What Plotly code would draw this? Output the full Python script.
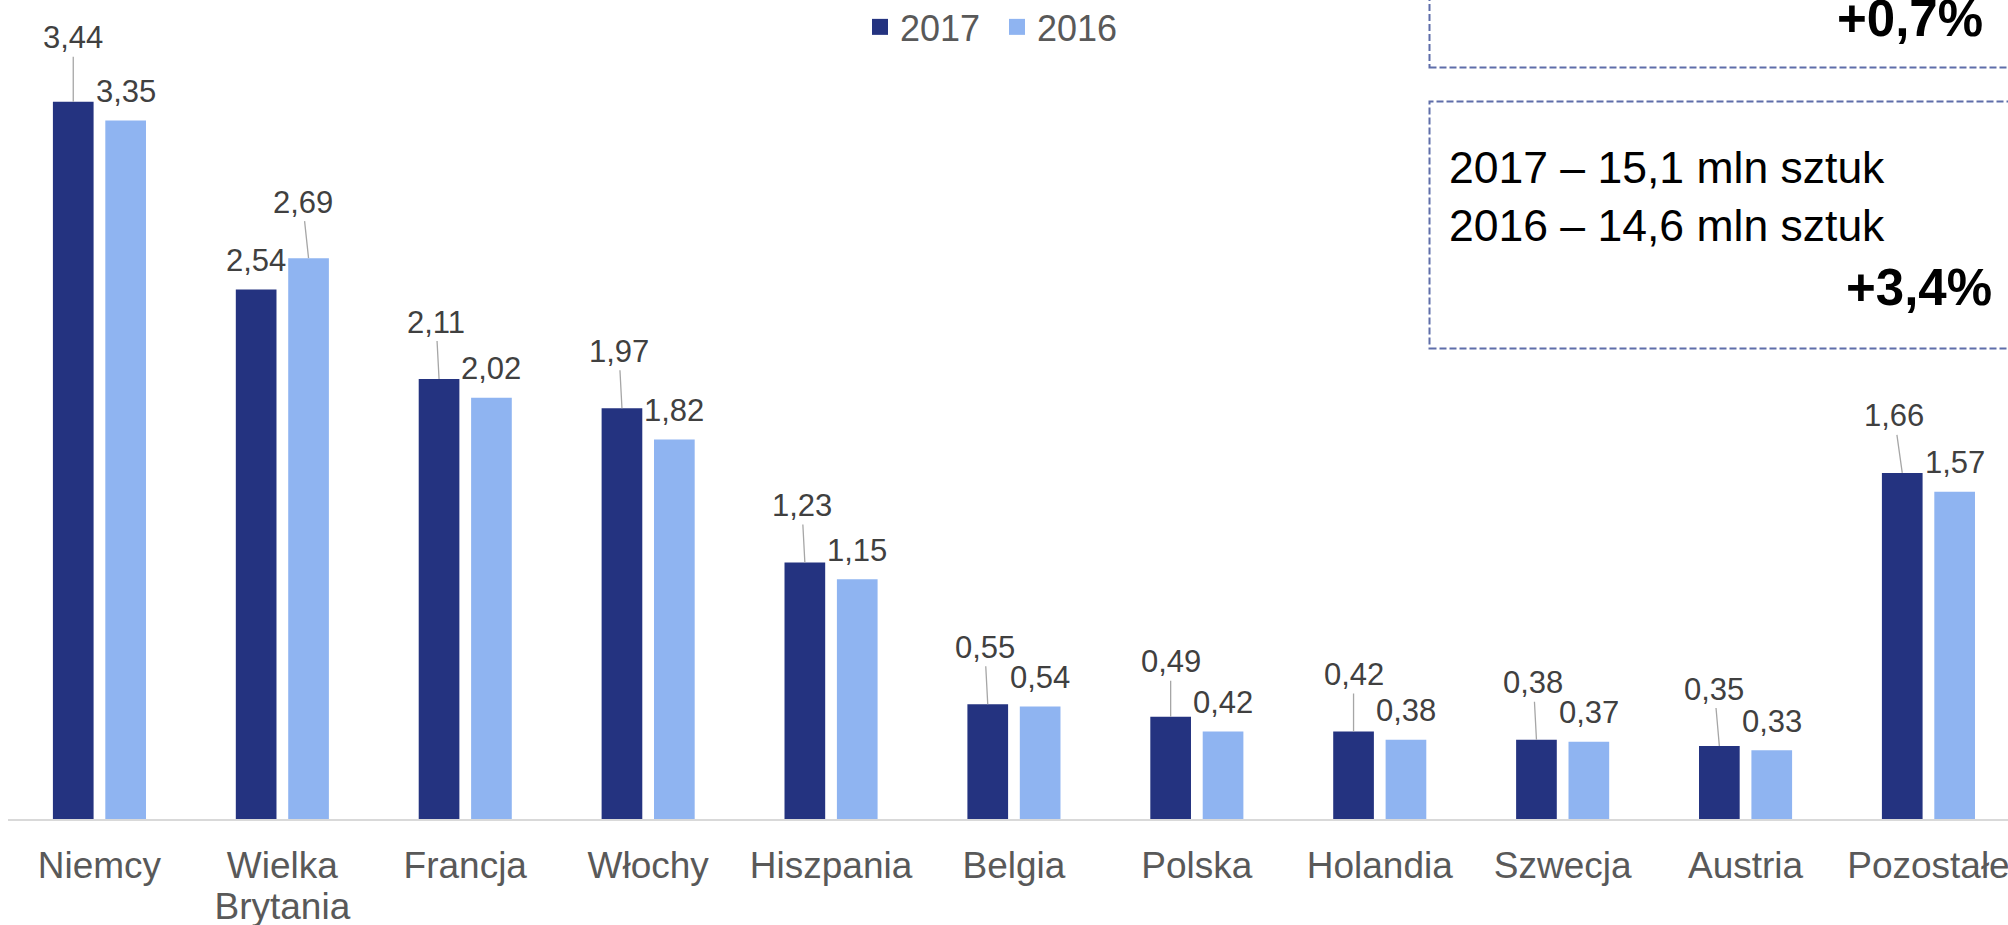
import plotly.graph_objects as go

categories = ["Niemcy", "Wielka<br>Brytania", "Francja", "Włochy", "Hiszpania", "Belgia",
              "Polska", "Holandia", "Szwecja", "Austria", "Pozostałe"]
values_2017 = [3.44, 2.54, 2.11, 1.97, 1.23, 0.55, 0.49, 0.42, 0.38, 0.35, 1.66]
values_2016 = [3.35, 2.69, 2.02, 1.82, 1.15, 0.54, 0.42, 0.38, 0.37, 0.33, 1.57]
series_names = ["2017", "2016"]
box_lines = ["2017 – 15,1 mln sztuk", "2016 – 14,6 mln sztuk"]
box_change = "+3,4%"
upper_box_change = "+0,7%"

C2017 = "#243380"
C2016 = "#8FB4F1"
FONT = "Liberation Sans, Arial, sans-serif"
LABEL_COLOR = "#404040"
TICK_COLOR = "#595959"

W, H = 2008, 925
ML, MR, MT, MB = 8, 0, 0, 106
PW, PH = W - ML - MR, H - MT - MB
BARGAP = 0.427
half_off = (1 - BARGAP) / 4  # center offset of each bar in the group

def fmt(v):
    return f"{v:.2f}".replace(".", ",")

def px_x(p):
    return (p - ML) / PW

def px_y(p):
    return 1 - (p - MT) / PH

# tick labels: 37px glyphs with tighter (40.6px) line spacing
tick_text = ["<br>".join(f"<span style='font-size:37px'>{part}</span>" for part in c.split("<br>"))
             for c in categories]

xs = list(range(len(categories)))
fig = go.Figure()
fig.add_trace(go.Bar(x=xs, y=values_2017, name=series_names[0], marker_color=C2017,
                     marker_line_width=0, showlegend=False))
fig.add_trace(go.Bar(x=xs, y=values_2016, name=series_names[1], marker_color=C2016,
                     marker_line_width=0, showlegend=False))
# legend entries (square markers)
for nm, col in zip(series_names, [C2017, C2016]):
    fig.add_trace(go.Scatter(x=[None], y=[None], mode="markers", name=nm,
                             marker=dict(symbol="square", size=19, color=col)))

# leader-line nudges (pixels) per category
lead_dx = [0, -6, -3, -3, -3, -3, 0, 0, -3, -5, -8]
lead_dy = [-64, -56, -57, -57, -57, -57, -55, -57, -57, -57, -57]

annotations = []
for i in xs:
    a, b = values_2017[i], values_2016[i]
    pairs = [(i - half_off, a), (i + half_off, b)]
    tall = 0 if a >= b else 1
    for k, (xx, v) in enumerate(pairs):
        if k == tall:
            annotations.append(dict(x=xx, y=v, xref="x", yref="y", text=fmt(v),
                                    showarrow=True, arrowhead=0, arrowwidth=1.3,
                                    arrowcolor="#A6A6A6", ax=lead_dx[i], ay=lead_dy[i],
                                    standoff=0, startstandoff=0,
                                    font=dict(family=FONT, size=31, color=LABEL_COLOR)))
        else:
            annotations.append(dict(x=xx, y=v, xref="x", yref="y", text=fmt(v),
                                    showarrow=False, yanchor="middle", yshift=29,
                                    font=dict(family=FONT, size=31, color=LABEL_COLOR)))

# info box texts
annotations.append(dict(x=px_x(1447), y=px_y(168), xref="paper", yref="paper",
                        text=box_lines[0], showarrow=False, xanchor="left", yanchor="middle",
                        font=dict(family=FONT, size=44.5, color="#000000")))
annotations.append(dict(x=px_x(1447), y=px_y(225), xref="paper", yref="paper",
                        text=box_lines[1], showarrow=False, xanchor="left", yanchor="middle",
                        font=dict(family=FONT, size=44.5, color="#000000")))
annotations.append(dict(x=px_x(1994), y=px_y(287), xref="paper", yref="paper",
                        text="<b>" + box_change + "</b>", showarrow=False, xanchor="right",
                        yanchor="middle", font=dict(family=FONT, size=51, color="#000000")))
annotations.append(dict(x=px_x(1985), y=px_y(18), xref="paper", yref="paper",
                        text="<b>" + upper_box_change + "</b>", showarrow=False, xanchor="right",
                        yanchor="middle", font=dict(family=FONT, size=51, color="#000000")))

box_line = dict(color="#5F6EAA", width=2, dash="7px,3px")
shapes = [
    dict(type="rect", xref="paper", yref="paper", x0=px_x(1429.5), x1=1.05,
         y0=px_y(67.5), y1=1.3, line=box_line, fillcolor="rgba(0,0,0,0)", layer="above"),
    dict(type="rect", xref="paper", yref="paper", x0=px_x(1429.5), x1=1.05,
         y0=px_y(348.5), y1=px_y(101.5), line=box_line, fillcolor="rgba(0,0,0,0)", layer="above"),
]

fig.update_layout(
    width=W, height=H,
    margin=dict(l=ML, r=MR, t=MT, b=MB, pad=0, autoexpand=False),
    paper_bgcolor="white", plot_bgcolor="white",
    barmode="group", bargap=BARGAP, bargroupgap=0.2236,
    showlegend=True,
    legend=dict(orientation="h", x=px_x(860), y=1.0037, xanchor="left", yanchor="top",
                font=dict(family=FONT, size=36, color=TICK_COLOR), entrywidth=92,
                itemsizing="trace", bgcolor="rgba(0,0,0,0)", borderwidth=0),
    xaxis=dict(range=[-0.5, -0.5 + PW / 182.9], tickmode="array", tickvals=xs,
               ticktext=tick_text, showgrid=False, zeroline=False,
               showline=True, linecolor="#D9D9D9", linewidth=2, ticks="",
               tickfont=dict(family=FONT, size=31.2, color=TICK_COLOR),
               ticklabelstandoff=20, ticklabeloverflow="allow", automargin=False),
    yaxis=dict(range=[0, PH / 208.5], visible=False, automargin=False),
    annotations=annotations, shapes=shapes,
    font=dict(family=FONT),
)

fig.write_html("out.html", config={"displayModeBar": False},
               post_script="document.body.style.margin='0';document.body.style.overflow='hidden';")
